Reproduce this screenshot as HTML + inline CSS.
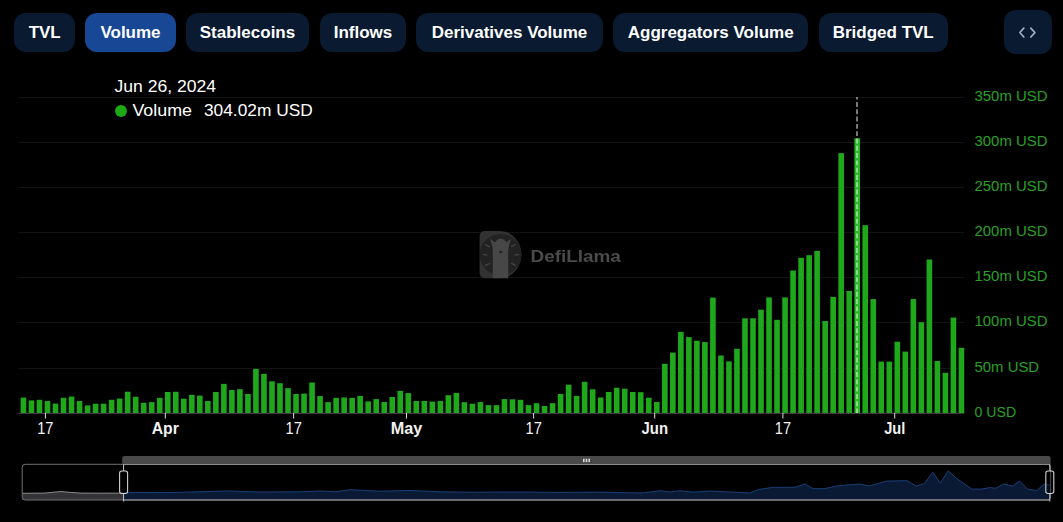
<!DOCTYPE html>
<html><head><meta charset="utf-8"><title>Volume chart</title>
<style>
html,body{margin:0;padding:0;background:#000;width:1063px;height:522px;overflow:hidden}
body{position:relative;font-family:"Liberation Sans",Arial,sans-serif}
.btn{position:absolute;top:13px;height:38.5px;border-radius:12px;background:#091a31;color:#fff;font-weight:700;font-size:17px;line-height:39.6px;text-align:center;white-space:nowrap}
.btn.on{background:#184895}
.embed{position:absolute;left:1004.3px;top:10px;width:47.5px;height:44px;border-radius:12px;background:#091a31}
svg{position:absolute;left:0;top:0}
</style></head><body>
<div class="btn" style="left:14.4px;width:60.6px">TVL</div>
<div class="btn on" style="left:85.0px;width:91.0px">Volume</div>
<div class="btn" style="left:186.3px;width:122.4px">Stablecoins</div>
<div class="btn" style="left:319.5px;width:86.9px">Inflows</div>
<div class="btn" style="left:416.3px;width:186.4px">Derivatives Volume</div>
<div class="btn" style="left:613.1px;width:195.2px">Aggregators Volume</div>
<div class="btn" style="left:818.8px;width:128.9px">Bridged TVL</div>
<div class="embed"><svg width="47.5" height="44" viewBox="0 0 47.5 44"><path d="M19.8 18.1 L15.9 22.55 L19.8 27 M26.8 18.1 L30.9 22.55 L26.8 27" fill="none" stroke="#a3aec0" stroke-width="1.7" stroke-linecap="round" stroke-linejoin="round"/></svg></div>
<svg width="1063" height="522" viewBox="0 0 1063 522" style="top:0;left:0;pointer-events:none">
<rect x="18.5" y="97" width="945.5" height="1" fill="#131313"/>
<rect x="18.5" y="142" width="945.5" height="1" fill="#131313"/>
<rect x="18.5" y="187" width="945.5" height="1" fill="#131313"/>
<rect x="18.5" y="232" width="945.5" height="1" fill="#131313"/>
<rect x="18.5" y="277" width="945.5" height="1" fill="#131313"/>
<rect x="18.5" y="322" width="945.5" height="1" fill="#131313"/>
<rect x="18.5" y="368" width="945.5" height="1" fill="#131313"/>
<defs><filter id="wb" x="-10%" y="-10%" width="120%" height="120%"><feGaussianBlur stdDeviation="0.45"/></filter></defs>
<g filter="url(#wb)">
<path d="M484.6 231 H500 A21.4 23.6 0 0 1 500 278.2 H484.6 A5 5 0 0 1 479.6 273.2 V236 A5 5 0 0 1 484.6 231 Z" fill="#303030"/>
<ellipse cx="500.6" cy="254.6" rx="20.9" ry="20.6" fill="#232323"/>
<path d="M492.8 278.2 V251 L492.4 246.5 L489.7 238.3 L494.9 242.4 L497.2 239.8 L500.7 238.5 L504.3 239.8 L506.6 242.4 L511 238.4 L508.7 246.5 L508.2 251 V278.2 Z" fill="#474747"/>
<path d="M498.6 251.2 L502.6 251.2 L500.7 253.8 Z" fill="#1e1e1e"/>
<g stroke="#454545" stroke-width="1.3" stroke-linecap="round">
<line x1="485.3" y1="244.5" x2="489.4" y2="246.9"/><line x1="483.3" y1="254.6" x2="486.6" y2="254.9"/><line x1="485.4" y1="265.3" x2="489.4" y2="263.6"/>
<line x1="511.2" y1="246.8" x2="515.2" y2="244.5"/><line x1="515.2" y1="254.9" x2="518.6" y2="254.6"/><line x1="511.6" y1="263.4" x2="515.3" y2="265.4"/>
</g>
<text x="530.5" y="262.2" font-family="Liberation Sans, sans-serif" font-weight="700" font-size="16.4" fill="#4b4b4b" textLength="90.4" lengthAdjust="spacingAndGlyphs">DefiLlama</text>
</g>
<rect x="20.65" y="397.60" width="5.6" height="15.40" fill="#1fa81c"/>
<rect x="28.67" y="400.40" width="5.6" height="12.60" fill="#1fa81c"/>
<rect x="36.68" y="399.80" width="5.6" height="13.20" fill="#1fa81c"/>
<rect x="44.70" y="401.00" width="5.6" height="12.00" fill="#1fa81c"/>
<rect x="52.72" y="403.60" width="5.6" height="9.40" fill="#1fa81c"/>
<rect x="60.73" y="397.80" width="5.6" height="15.20" fill="#1fa81c"/>
<rect x="68.75" y="396.50" width="5.6" height="16.50" fill="#1fa81c"/>
<rect x="76.77" y="401.00" width="5.6" height="12.00" fill="#1fa81c"/>
<rect x="84.79" y="405.40" width="5.6" height="7.60" fill="#1fa81c"/>
<rect x="92.80" y="403.70" width="5.6" height="9.30" fill="#1fa81c"/>
<rect x="100.82" y="403.70" width="5.6" height="9.30" fill="#1fa81c"/>
<rect x="108.84" y="399.80" width="5.6" height="13.20" fill="#1fa81c"/>
<rect x="116.85" y="398.60" width="5.6" height="14.40" fill="#1fa81c"/>
<rect x="124.87" y="391.70" width="5.6" height="21.30" fill="#1fa81c"/>
<rect x="132.89" y="396.80" width="5.6" height="16.20" fill="#1fa81c"/>
<rect x="140.91" y="402.80" width="5.6" height="10.20" fill="#1fa81c"/>
<rect x="148.92" y="402.10" width="5.6" height="10.90" fill="#1fa81c"/>
<rect x="156.94" y="397.90" width="5.6" height="15.10" fill="#1fa81c"/>
<rect x="164.96" y="392.00" width="5.6" height="21.00" fill="#1fa81c"/>
<rect x="172.97" y="391.80" width="5.6" height="21.20" fill="#1fa81c"/>
<rect x="180.99" y="398.70" width="5.6" height="14.30" fill="#1fa81c"/>
<rect x="189.01" y="394.80" width="5.6" height="18.20" fill="#1fa81c"/>
<rect x="197.02" y="395.60" width="5.6" height="17.40" fill="#1fa81c"/>
<rect x="205.04" y="401.00" width="5.6" height="12.00" fill="#1fa81c"/>
<rect x="213.06" y="392.00" width="5.6" height="21.00" fill="#1fa81c"/>
<rect x="221.07" y="383.90" width="5.6" height="29.10" fill="#1fa81c"/>
<rect x="229.09" y="390.00" width="5.6" height="23.00" fill="#1fa81c"/>
<rect x="237.11" y="389.20" width="5.6" height="23.80" fill="#1fa81c"/>
<rect x="245.13" y="394.00" width="5.6" height="19.00" fill="#1fa81c"/>
<rect x="253.14" y="368.90" width="5.6" height="44.10" fill="#1fa81c"/>
<rect x="261.16" y="373.90" width="5.6" height="39.10" fill="#1fa81c"/>
<rect x="269.18" y="381.30" width="5.6" height="31.70" fill="#1fa81c"/>
<rect x="277.19" y="383.20" width="5.6" height="29.80" fill="#1fa81c"/>
<rect x="285.21" y="388.20" width="5.6" height="24.80" fill="#1fa81c"/>
<rect x="293.23" y="394.00" width="5.6" height="19.00" fill="#1fa81c"/>
<rect x="301.24" y="393.60" width="5.6" height="19.40" fill="#1fa81c"/>
<rect x="309.26" y="382.50" width="5.6" height="30.50" fill="#1fa81c"/>
<rect x="317.28" y="396.10" width="5.6" height="16.90" fill="#1fa81c"/>
<rect x="325.30" y="402.10" width="5.6" height="10.90" fill="#1fa81c"/>
<rect x="333.31" y="397.90" width="5.6" height="15.10" fill="#1fa81c"/>
<rect x="341.33" y="397.50" width="5.6" height="15.50" fill="#1fa81c"/>
<rect x="349.35" y="397.90" width="5.6" height="15.10" fill="#1fa81c"/>
<rect x="357.36" y="395.90" width="5.6" height="17.10" fill="#1fa81c"/>
<rect x="365.38" y="401.40" width="5.6" height="11.60" fill="#1fa81c"/>
<rect x="373.40" y="399.10" width="5.6" height="13.90" fill="#1fa81c"/>
<rect x="381.41" y="402.00" width="5.6" height="11.00" fill="#1fa81c"/>
<rect x="389.43" y="397.00" width="5.6" height="16.00" fill="#1fa81c"/>
<rect x="397.45" y="390.80" width="5.6" height="22.20" fill="#1fa81c"/>
<rect x="405.47" y="393.10" width="5.6" height="19.90" fill="#1fa81c"/>
<rect x="413.48" y="401.00" width="5.6" height="12.00" fill="#1fa81c"/>
<rect x="421.50" y="400.90" width="5.6" height="12.10" fill="#1fa81c"/>
<rect x="429.52" y="401.60" width="5.6" height="11.40" fill="#1fa81c"/>
<rect x="437.53" y="401.00" width="5.6" height="12.00" fill="#1fa81c"/>
<rect x="445.55" y="395.20" width="5.6" height="17.80" fill="#1fa81c"/>
<rect x="453.57" y="392.90" width="5.6" height="20.10" fill="#1fa81c"/>
<rect x="461.58" y="402.20" width="5.6" height="10.80" fill="#1fa81c"/>
<rect x="469.60" y="403.70" width="5.6" height="9.30" fill="#1fa81c"/>
<rect x="477.62" y="402.10" width="5.6" height="10.90" fill="#1fa81c"/>
<rect x="485.64" y="405.10" width="5.6" height="7.90" fill="#1fa81c"/>
<rect x="493.65" y="405.20" width="5.6" height="7.80" fill="#1fa81c"/>
<rect x="501.67" y="399.10" width="5.6" height="13.90" fill="#1fa81c"/>
<rect x="509.69" y="399.30" width="5.6" height="13.70" fill="#1fa81c"/>
<rect x="517.70" y="399.80" width="5.6" height="13.20" fill="#1fa81c"/>
<rect x="525.72" y="405.10" width="5.6" height="7.90" fill="#1fa81c"/>
<rect x="533.74" y="403.20" width="5.6" height="9.80" fill="#1fa81c"/>
<rect x="541.75" y="406.00" width="5.6" height="7.00" fill="#1fa81c"/>
<rect x="549.77" y="403.20" width="5.6" height="9.80" fill="#1fa81c"/>
<rect x="557.79" y="394.00" width="5.6" height="19.00" fill="#1fa81c"/>
<rect x="565.81" y="384.70" width="5.6" height="28.30" fill="#1fa81c"/>
<rect x="573.82" y="396.00" width="5.6" height="17.00" fill="#1fa81c"/>
<rect x="581.84" y="381.80" width="5.6" height="31.20" fill="#1fa81c"/>
<rect x="589.86" y="389.30" width="5.6" height="23.70" fill="#1fa81c"/>
<rect x="597.87" y="397.50" width="5.6" height="15.50" fill="#1fa81c"/>
<rect x="605.89" y="392.00" width="5.6" height="21.00" fill="#1fa81c"/>
<rect x="613.91" y="387.80" width="5.6" height="25.20" fill="#1fa81c"/>
<rect x="621.92" y="388.70" width="5.6" height="24.30" fill="#1fa81c"/>
<rect x="629.94" y="392.00" width="5.6" height="21.00" fill="#1fa81c"/>
<rect x="637.96" y="392.20" width="5.6" height="20.80" fill="#1fa81c"/>
<rect x="645.98" y="397.70" width="5.6" height="15.30" fill="#1fa81c"/>
<rect x="653.99" y="402.00" width="5.6" height="11.00" fill="#1fa81c"/>
<rect x="662.01" y="363.80" width="5.6" height="49.20" fill="#1fa81c"/>
<rect x="670.03" y="352.60" width="5.6" height="60.40" fill="#1fa81c"/>
<rect x="678.04" y="331.90" width="5.6" height="81.10" fill="#1fa81c"/>
<rect x="686.06" y="337.10" width="5.6" height="75.90" fill="#1fa81c"/>
<rect x="694.08" y="340.70" width="5.6" height="72.30" fill="#1fa81c"/>
<rect x="702.09" y="342.10" width="5.6" height="70.90" fill="#1fa81c"/>
<rect x="710.11" y="297.60" width="5.6" height="115.40" fill="#1fa81c"/>
<rect x="718.13" y="355.50" width="5.6" height="57.50" fill="#1fa81c"/>
<rect x="726.15" y="361.40" width="5.6" height="51.60" fill="#1fa81c"/>
<rect x="734.16" y="348.80" width="5.6" height="64.20" fill="#1fa81c"/>
<rect x="742.18" y="318.30" width="5.6" height="94.70" fill="#1fa81c"/>
<rect x="750.20" y="318.30" width="5.6" height="94.70" fill="#1fa81c"/>
<rect x="758.21" y="309.70" width="5.6" height="103.30" fill="#1fa81c"/>
<rect x="766.23" y="297.40" width="5.6" height="115.60" fill="#1fa81c"/>
<rect x="774.25" y="319.80" width="5.6" height="93.20" fill="#1fa81c"/>
<rect x="782.26" y="297.40" width="5.6" height="115.60" fill="#1fa81c"/>
<rect x="790.28" y="270.50" width="5.6" height="142.50" fill="#1fa81c"/>
<rect x="798.30" y="257.80" width="5.6" height="155.20" fill="#1fa81c"/>
<rect x="806.32" y="255.20" width="5.6" height="157.80" fill="#1fa81c"/>
<rect x="814.33" y="250.90" width="5.6" height="162.10" fill="#1fa81c"/>
<rect x="822.35" y="321.00" width="5.6" height="92.00" fill="#1fa81c"/>
<rect x="830.37" y="296.90" width="5.6" height="116.10" fill="#1fa81c"/>
<rect x="838.38" y="153.10" width="5.6" height="259.90" fill="#1fa81c"/>
<rect x="846.40" y="291.00" width="5.6" height="122.00" fill="#1fa81c"/>
<rect x="854.42" y="138.30" width="5.6" height="274.70" fill="#2aba27"/>
<rect x="862.43" y="225.20" width="5.6" height="187.80" fill="#1fa81c"/>
<rect x="870.45" y="299.10" width="5.6" height="113.90" fill="#1fa81c"/>
<rect x="878.47" y="361.60" width="5.6" height="51.40" fill="#1fa81c"/>
<rect x="886.49" y="361.60" width="5.6" height="51.40" fill="#1fa81c"/>
<rect x="894.50" y="341.70" width="5.6" height="71.30" fill="#1fa81c"/>
<rect x="902.52" y="351.60" width="5.6" height="61.40" fill="#1fa81c"/>
<rect x="910.54" y="299.10" width="5.6" height="113.90" fill="#1fa81c"/>
<rect x="918.55" y="322.20" width="5.6" height="90.80" fill="#1fa81c"/>
<rect x="926.57" y="259.50" width="5.6" height="153.50" fill="#1fa81c"/>
<rect x="934.59" y="361.00" width="5.6" height="52.00" fill="#1fa81c"/>
<rect x="942.60" y="372.80" width="5.6" height="40.20" fill="#1fa81c"/>
<rect x="950.62" y="317.60" width="5.6" height="95.40" fill="#1fa81c"/>
<rect x="958.64" y="347.80" width="5.6" height="65.20" fill="#1fa81c"/>
<rect x="18.5" y="413" width="945.5" height="1" fill="#3a3a3a"/>
<rect x="44.9" y="413" width="1" height="5.5" fill="#ddd"/>
<text x="37.2" y="434.4" font-family="Liberation Sans, sans-serif" font-size="15.6" font-weight="400" fill="#f2f2f2" textLength="16.3" lengthAdjust="spacingAndGlyphs">17</text>
<rect x="164.8" y="413" width="1" height="5.5" fill="#ddd"/>
<text x="151.7" y="434.4" font-family="Liberation Sans, sans-serif" font-size="15.6" font-weight="700" fill="#f2f2f2" textLength="27.2" lengthAdjust="spacingAndGlyphs">Apr</text>
<rect x="293.1" y="413" width="1" height="5.5" fill="#ddd"/>
<text x="285.5" y="434.4" font-family="Liberation Sans, sans-serif" font-size="15.6" font-weight="400" fill="#f2f2f2" textLength="16.3" lengthAdjust="spacingAndGlyphs">17</text>
<rect x="406.0" y="413" width="1" height="5.5" fill="#ddd"/>
<text x="390.7" y="434.4" font-family="Liberation Sans, sans-serif" font-size="15.6" font-weight="700" fill="#f2f2f2" textLength="31.6" lengthAdjust="spacingAndGlyphs">May</text>
<rect x="533.1" y="413" width="1" height="5.5" fill="#ddd"/>
<text x="525.5" y="434.4" font-family="Liberation Sans, sans-serif" font-size="15.6" font-weight="400" fill="#f2f2f2" textLength="16.3" lengthAdjust="spacingAndGlyphs">17</text>
<rect x="654.2" y="413" width="1" height="5.5" fill="#ddd"/>
<text x="641.5" y="434.4" font-family="Liberation Sans, sans-serif" font-size="15.6" font-weight="700" fill="#f2f2f2" textLength="26.5" lengthAdjust="spacingAndGlyphs">Jun</text>
<rect x="782.4" y="413" width="1" height="5.5" fill="#ddd"/>
<text x="774.8" y="434.4" font-family="Liberation Sans, sans-serif" font-size="15.6" font-weight="400" fill="#f2f2f2" textLength="16.3" lengthAdjust="spacingAndGlyphs">17</text>
<rect x="894.2" y="413" width="1" height="5.5" fill="#ddd"/>
<text x="884.2" y="434.4" font-family="Liberation Sans, sans-serif" font-size="15.6" font-weight="700" fill="#f2f2f2" textLength="21.1" lengthAdjust="spacingAndGlyphs">Jul</text>
<text x="974.5" y="100.8" font-family="Liberation Sans, sans-serif" font-size="14.5" fill="#28a026" textLength="73.0" lengthAdjust="spacingAndGlyphs">350m USD</text>
<text x="974.5" y="145.8" font-family="Liberation Sans, sans-serif" font-size="14.5" fill="#28a026" textLength="73.0" lengthAdjust="spacingAndGlyphs">300m USD</text>
<text x="974.5" y="190.8" font-family="Liberation Sans, sans-serif" font-size="14.5" fill="#28a026" textLength="73.0" lengthAdjust="spacingAndGlyphs">250m USD</text>
<text x="974.5" y="235.8" font-family="Liberation Sans, sans-serif" font-size="14.5" fill="#28a026" textLength="73.0" lengthAdjust="spacingAndGlyphs">200m USD</text>
<text x="974.5" y="280.8" font-family="Liberation Sans, sans-serif" font-size="14.5" fill="#28a026" textLength="73.0" lengthAdjust="spacingAndGlyphs">150m USD</text>
<text x="974.5" y="325.8" font-family="Liberation Sans, sans-serif" font-size="14.5" fill="#28a026" textLength="73.0" lengthAdjust="spacingAndGlyphs">100m USD</text>
<text x="974.5" y="371.8" font-family="Liberation Sans, sans-serif" font-size="14.5" fill="#28a026" textLength="64.6" lengthAdjust="spacingAndGlyphs">50m USD</text>
<text x="974.5" y="416.8" font-family="Liberation Sans, sans-serif" font-size="14.5" fill="#28a026" textLength="41.6" lengthAdjust="spacingAndGlyphs">0 USD</text>
<line x1="857" y1="96.9" x2="857" y2="413" stroke="#fff" stroke-opacity="0.58" stroke-width="1.6" stroke-dasharray="4.9 2.4" stroke-dashoffset="2.2"/>
<text x="114.5" y="91.7" font-family="Liberation Sans, sans-serif" font-size="17" fill="#fff" textLength="101.5" lengthAdjust="spacingAndGlyphs">Jun 26, 2024</text>
<circle cx="121" cy="110.95" r="5.95" fill="#1eaa16"/>
<text x="132.4" y="116" font-family="Liberation Sans, sans-serif" font-size="17" fill="#fff" textLength="59.6" lengthAdjust="spacingAndGlyphs">Volume</text>
<text x="204" y="116" font-family="Liberation Sans, sans-serif" font-size="17" fill="#fff" textLength="108.7" lengthAdjust="spacingAndGlyphs">304.02m USD</text>
<polygon points="22.2,493.3 45.0,493.1 54.0,492.2 61.0,491.6 68.0,492.2 80.0,493.1 100.0,493.2 123.6,493.1 123.6,500.0 22.2,500.0" fill="#333338"/>
<polyline points="22.2,493.3 45.0,493.1 54.0,492.2 61.0,491.6 68.0,492.2 80.0,493.1 100.0,493.2 123.6,493.1" fill="none" stroke="#8a8a8a" stroke-width="1"/>
<polygon points="123.6,492.6 150.0,492.6 180.0,492.3 227.0,491.0 260.0,492.0 300.0,491.8 321.0,491.0 335.0,491.8 350.0,489.7 380.0,491.2 410.0,490.5 440.0,491.8 470.0,492.2 520.0,492.0 560.0,492.4 600.0,492.1 642.0,493.0 660.7,490.7 670.6,492.1 679.0,490.7 693.0,492.1 710.0,491.0 749.6,493.0 759.5,489.3 773.6,487.3 794.7,487.3 805.5,484.0 813.0,488.7 824.4,488.7 837.0,485.9 859.7,484.0 869.5,486.0 886.5,481.1 907.0,480.7 916.2,486.1 924.3,483.7 932.8,472.3 940.3,483.1 948.2,470.8 956.9,478.6 971.9,489.1 981.0,489.1 990.0,487.6 996.0,488.2 1003.6,484.0 1012.6,486.1 1019.5,481.0 1027.6,489.1 1036.7,490.6 1044.2,484.0 1049.8,485.0 1049.8,500.0 123.6,500.0" fill="#0a1a34"/>
<polyline points="123.6,492.6 150.0,492.6 180.0,492.3 227.0,491.0 260.0,492.0 300.0,491.8 321.0,491.0 335.0,491.8 350.0,489.7 380.0,491.2 410.0,490.5 440.0,491.8 470.0,492.2 520.0,492.0 560.0,492.4 600.0,492.1 642.0,493.0 660.7,490.7 670.6,492.1 679.0,490.7 693.0,492.1 710.0,491.0 749.6,493.0 759.5,489.3 773.6,487.3 794.7,487.3 805.5,484.0 813.0,488.7 824.4,488.7 837.0,485.9 859.7,484.0 869.5,486.0 886.5,481.1 907.0,480.7 916.2,486.1 924.3,483.7 932.8,472.3 940.3,483.1 948.2,470.8 956.9,478.6 971.9,489.1 981.0,489.1 990.0,487.6 996.0,488.2 1003.6,484.0 1012.6,486.1 1019.5,481.0 1027.6,489.1 1036.7,490.6 1044.2,484.0 1049.8,485.0" fill="none" stroke="#1a3f74" stroke-width="1"/>
<rect x="22.2" y="464.3" width="1028.4" height="35.7" rx="3" fill="none" stroke="#707070" stroke-width="1"/>
<line x1="123.6" y1="464.3" x2="1049.8" y2="464.3" stroke="#8c8c8c" stroke-width="1.2"/>
<line x1="123.6" y1="500.0" x2="1049.8" y2="500.0" stroke="#9a9a9a" stroke-width="1.2"/>
<path d="M122.19999999999999 464 V458.5 A2.5 2.5 0 0 1 124.69999999999999 456 H1048.1 A2.5 2.5 0 0 1 1050.6 458.5 V464 Z" fill="#494949"/>
<rect x="583.0" y="458.7" width="1.6" height="3.4" fill="#d8d8d8"/>
<rect x="585.7" y="458.7" width="1.6" height="3.4" fill="#d8d8d8"/>
<rect x="588.4" y="458.7" width="1.6" height="3.4" fill="#d8d8d8"/>
<line x1="123.6" y1="464.3" x2="123.6" y2="471" stroke="#c8c8c8" stroke-width="1"/>
<line x1="123.6" y1="493.5" x2="123.6" y2="501.5" stroke="#c8c8c8" stroke-width="1"/>
<rect x="119.6" y="471" width="8" height="22.5" rx="2.2" fill="rgba(0,0,0,0.35)" stroke="#d0d0d0" stroke-width="1.1"/>
<line x1="1049.8" y1="464.3" x2="1049.8" y2="471" stroke="#c8c8c8" stroke-width="1"/>
<line x1="1049.8" y1="493.5" x2="1049.8" y2="501.5" stroke="#c8c8c8" stroke-width="1"/>
<rect x="1045.8" y="471" width="8" height="22.5" rx="2.2" fill="rgba(0,0,0,0.35)" stroke="#d0d0d0" stroke-width="1.1"/>
</svg>
</body></html>
